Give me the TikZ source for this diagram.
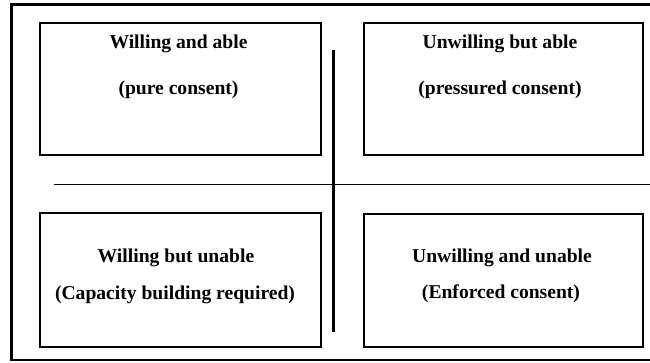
\documentclass[tikz,border=0pt]{standalone}
\usepackage{fontspec}
\setmainfont{Liberation Serif}
\begin{document}
\begin{tikzpicture}[x=1pt,y=-1pt,
  quad/.style={draw=black,line width=1.4pt,rectangle,inner sep=0pt},
  lbl/.style={anchor=base,inner sep=0pt,font=\fontsize{19.6}{23}\selectfont\bfseries},
  thickline/.style={line width=3pt},
  thinline/.style={line width=1.6pt}]
\useasboundingbox (0,0) rectangle (650,362);
% outer frame
\coordinate (ftl) at (10,4.5);
\coordinate (ftr) at (650,4.5);
\coordinate (fl1) at (11.5,3);
\coordinate (fl2) at (11.5,361);
\coordinate (fbl) at (10,360);
\coordinate (fbr) at (650,360);
\draw[thickline] (ftl) -- (ftr);
\draw[thickline] (fl1) -- (fl2);
\draw[thinline] (fbl) -- (fbr);
% boxes
\node[quad,minimum width=281pt,minimum height=132pt] (tl) at (180.5,89) {};
\node[quad,minimum width=279pt,minimum height=132pt] (tr) at (503.5,89) {};
\node[quad,minimum width=281pt,minimum height=134pt] (bl) at (180.5,280) {};
\node[quad,minimum width=279pt,minimum height=133pt] (br) at (503.5,280.5) {};
% axes
\coordinate (v1) at (333.8,50);
\coordinate (v2) at (333.8,332);
\coordinate (h1) at (54,184.5);
\coordinate (h2) at (650,184.5);
\draw[thinline] (h1) -- (h2);
\draw[thickline] (v1) -- (v2);
% labels
\node[lbl] (t1a) at (178.5,48) {Willing and able};
\node[lbl] (t1b) at (178.5,94) {(pure consent)};
\node[lbl] (t2a) at (500,48) {Unwilling but able};
\node[lbl] (t2b) at (500,94) {(pressured consent)};
\node[lbl] (t3a) at (176,262) {Willing but unable};
\node[lbl] (t3b) at (175,299) {(Capacity building required)};
\node[lbl] (t4a) at (502,262) {Unwilling and unable};
\node[lbl] (t4b) at (501,298) {(Enforced consent)};
\end{tikzpicture}
\end{document}
